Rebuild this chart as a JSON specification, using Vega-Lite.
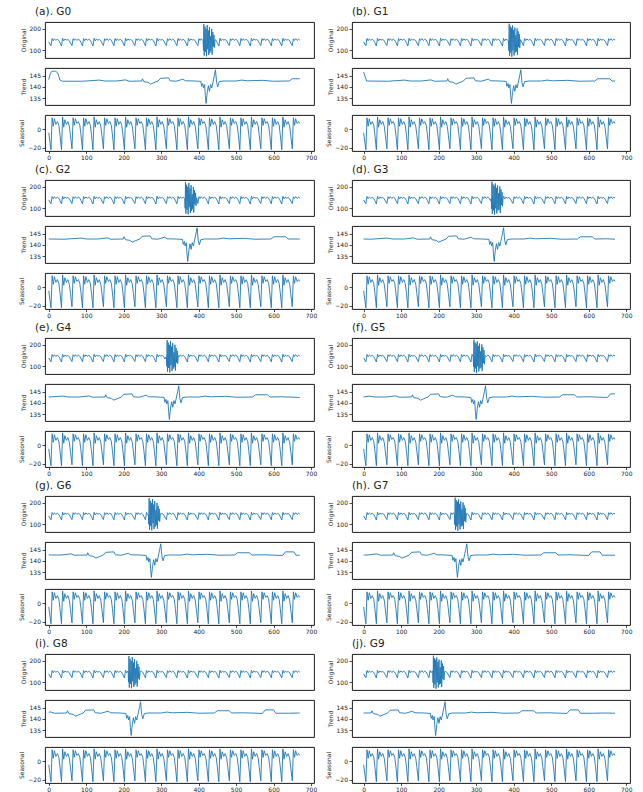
{
"$schema": "https://vega.github.io/schema/vega-lite/v6.json",
"padding": {"left": 18, "top": 6, "right": 2, "bottom": 0},
"config": {
"font": "DejaVu Sans",
"view": {"stroke": "#000", "strokeWidth": 0.9},
"axis": {"grid": false, "domain": false, "labelFontSize": 6, "titleFontSize": 6, "titleFontWeight": "normal", "labelColor": "#222", "titleColor": "#222", "tickColor": "#222", "tickSize": 3, "tickWidth": 0.8, "labelPadding": 1.5, "titlePadding": 3},
"axisX": {"labelPadding": 0.5, "tickSize": 2.5},
"line": {"color": "#1f77b4", "strokeWidth": 0.9},
"title": {"fontSize": 10.5, "fontWeight": "normal", "anchor": "start", "frame": "group", "color": "#222", "offset": 0}
},
"datasets": {
"o": [
{"t":0,"s":-4,"o":139},
{"t":6,"s":-22,"o":121},{"t":9,"s":12,"o":155},{"t":12,"s":3,"o":145},{"t":15,"s":11,"o":153},{"t":19,"s":5,"o":147},{"t":23,"s":8,"o":151},{"t":27,"s":4,"o":146},{"t":30,"s":-6,"o":135},
{"t":34,"s":-22,"o":120},{"t":37,"s":13,"o":156},{"t":40,"s":2,"o":144},{"t":43,"s":10,"o":152},{"t":47,"s":5,"o":148},{"t":51,"s":8,"o":150},{"t":55,"s":3,"o":145},{"t":58,"s":-7,"o":134},
{"t":62,"s":-21,"o":122},{"t":65,"s":12,"o":154},{"t":68,"s":4,"o":146},{"t":71,"s":11,"o":154},{"t":75,"s":6,"o":146},{"t":79,"s":8,"o":152},{"t":83,"s":4,"o":147},{"t":86,"s":-6,"o":136},
{"t":90,"s":-22,"o":121},{"t":93,"s":12,"o":155},{"t":96,"s":3,"o":145},{"t":99,"s":11,"o":153},{"t":103,"s":5,"o":147},{"t":107,"s":8,"o":151},{"t":111,"s":4,"o":146},{"t":114,"s":-6,"o":135},
{"t":118,"s":-22,"o":120},{"t":121,"s":13,"o":156},{"t":124,"s":2,"o":144},{"t":127,"s":10,"o":152},{"t":131,"s":5,"o":148},{"t":135,"s":8,"o":150},{"t":139,"s":3,"o":145},{"t":142,"s":-7,"o":134},
{"t":146,"s":-21,"o":122},{"t":149,"s":12,"o":154},{"t":152,"s":4,"o":146},{"t":155,"s":11,"o":154},{"t":159,"s":6,"o":146},{"t":163,"s":8,"o":152},{"t":167,"s":4,"o":147},{"t":170,"s":-6,"o":136},
{"t":174,"s":-22,"o":121},{"t":177,"s":12,"o":155},{"t":180,"s":3,"o":145},{"t":183,"s":11,"o":153},{"t":187,"s":5,"o":147},{"t":191,"s":8,"o":151},{"t":195,"s":4,"o":146},{"t":198,"s":-6,"o":135},
{"t":202,"s":-22,"o":120},{"t":205,"s":13,"o":156},{"t":208,"s":2,"o":144},{"t":211,"s":10,"o":152},{"t":215,"s":5,"o":148},{"t":219,"s":8,"o":150},{"t":223,"s":3,"o":145},{"t":226,"s":-7,"o":134},
{"t":230,"s":-21,"o":122},{"t":233,"s":12,"o":154},{"t":236,"s":4,"o":146},{"t":239,"s":11,"o":154},{"t":243,"s":6,"o":146},{"t":247,"s":8,"o":152},{"t":251,"s":4,"o":147},{"t":254,"s":-6,"o":136},
{"t":258,"s":-22,"o":121},{"t":261,"s":12,"o":155},{"t":264,"s":3,"o":145},{"t":267,"s":11,"o":153},{"t":271,"s":5,"o":147},{"t":275,"s":8,"o":151},{"t":279,"s":4,"o":146},{"t":282,"s":-6,"o":135},
{"t":286,"s":-22,"o":120},{"t":289,"s":13,"o":156},{"t":292,"s":2,"o":144},{"t":295,"s":10,"o":152},{"t":299,"s":5,"o":148},{"t":303,"s":8,"o":150},{"t":307,"s":3,"o":145},{"t":310,"s":-7,"o":134},
{"t":314,"s":-21,"o":122},{"t":317,"s":12,"o":154},{"t":320,"s":4,"o":146},{"t":323,"s":11,"o":154},{"t":327,"s":6,"o":146},{"t":331,"s":8,"o":152},{"t":335,"s":4,"o":147},{"t":338,"s":-6,"o":136},
{"t":342,"s":-22,"o":121},{"t":345,"s":12,"o":155},{"t":348,"s":3,"o":145},{"t":351,"s":11,"o":153},{"t":355,"s":5,"o":147},{"t":359,"s":8,"o":151},{"t":363,"s":4,"o":146},{"t":366,"s":-6,"o":135},
{"t":370,"s":-22,"o":120},{"t":373,"s":13,"o":156},{"t":376,"s":2,"o":144},{"t":379,"s":10,"o":152},{"t":383,"s":5,"o":148},{"t":387,"s":8,"o":150},{"t":391,"s":3,"o":145},{"t":394,"s":-7,"o":134},
{"t":398,"s":-21,"o":122},{"t":401,"s":12,"o":154},{"t":404,"s":4,"o":146},{"t":407,"s":11,"o":154},{"t":411,"s":6,"o":146},{"t":415,"s":8,"o":152},{"t":419,"s":4,"o":147},{"t":422,"s":-6,"o":136},
{"t":426,"s":-22,"o":121},{"t":429,"s":12,"o":155},{"t":432,"s":3,"o":145},{"t":435,"s":11,"o":153},{"t":439,"s":5,"o":147},{"t":443,"s":8,"o":151},{"t":447,"s":4,"o":146},{"t":450,"s":-6,"o":135},
{"t":454,"s":-22,"o":120},{"t":457,"s":13,"o":156},{"t":460,"s":2,"o":144},{"t":463,"s":10,"o":152},{"t":467,"s":5,"o":148},{"t":471,"s":8,"o":150},{"t":475,"s":3,"o":145},{"t":478,"s":-7,"o":134},
{"t":482,"s":-21,"o":122},{"t":485,"s":12,"o":154},{"t":488,"s":4,"o":146},{"t":491,"s":11,"o":154},{"t":495,"s":6,"o":146},{"t":499,"s":8,"o":152},{"t":503,"s":4,"o":147},{"t":506,"s":-6,"o":136},
{"t":510,"s":-22,"o":121},{"t":513,"s":12,"o":155},{"t":516,"s":3,"o":145},{"t":519,"s":11,"o":153},{"t":523,"s":5,"o":147},{"t":527,"s":8,"o":151},{"t":531,"s":4,"o":146},{"t":534,"s":-6,"o":135},
{"t":538,"s":-22,"o":120},{"t":541,"s":13,"o":156},{"t":544,"s":2,"o":144},{"t":547,"s":10,"o":152},{"t":551,"s":5,"o":148},{"t":555,"s":8,"o":150},{"t":559,"s":3,"o":145},{"t":562,"s":-7,"o":134},
{"t":566,"s":-21,"o":122},{"t":569,"s":12,"o":154},{"t":572,"s":4,"o":146},{"t":575,"s":11,"o":154},{"t":579,"s":6,"o":146},{"t":583,"s":8,"o":152},{"t":587,"s":4,"o":147},{"t":590,"s":-6,"o":136},
{"t":594,"s":-22,"o":121},{"t":597,"s":12,"o":155},{"t":600,"s":3,"o":145},{"t":603,"s":11,"o":153},{"t":607,"s":5,"o":147},{"t":611,"s":8,"o":151},{"t":615,"s":4,"o":146},{"t":618,"s":-6,"o":135},
{"t":622,"s":-22,"o":120},{"t":625,"s":13,"o":156},{"t":628,"s":2,"o":144},{"t":631,"s":10,"o":152},{"t":635,"s":5,"o":148},{"t":639,"s":8,"o":150},{"t":643,"s":3,"o":145},{"t":646,"s":-7,"o":134},
{"t":650,"s":-21,"o":122},{"t":653,"s":12,"o":154},{"t":656,"s":4,"o":146},{"t":659,"s":11,"o":154},{"t":663,"s":6,"o":146},{"t":667,"s":8,"o":152},{"t":670,"s":6,"o":148},
{"g":"G0","t":412,"o":145},{"g":"G0","t":413,"o":100},{"g":"G0","t":414,"o":222},{"g":"G0","t":415,"o":75},{"g":"G0","t":417,"o":210},{"g":"G0","t":418,"o":92},{"g":"G0","t":420,"o":200},{"g":"G0","t":421,"o":72},{"g":"G0","t":423,"o":218},{"g":"G0","t":424,"o":105},{"g":"G0","t":426,"o":192},{"g":"G0","t":427,"o":78},{"g":"G0","t":429,"o":208},{"g":"G0","t":430,"o":88},{"g":"G0","t":432,"o":165},{"g":"G0","t":433,"o":96},{"g":"G0","t":435,"o":200},{"g":"G0","t":436,"o":80},{"g":"G0","t":438,"o":185},{"g":"G0","t":439,"o":118},{"g":"G0","t":441,"o":172},{"g":"G0","t":442,"o":112},{"g":"G0","t":444,"o":150},
{"g":"G1","t":386,"o":145},{"g":"G1","t":387,"o":98},{"g":"G1","t":388,"o":224},{"g":"G1","t":389,"o":74},{"g":"G1","t":391,"o":212},{"g":"G1","t":392,"o":90},{"g":"G1","t":394,"o":205},{"g":"G1","t":395,"o":70},{"g":"G1","t":397,"o":216},{"g":"G1","t":398,"o":100},{"g":"G1","t":400,"o":195},{"g":"G1","t":401,"o":76},{"g":"G1","t":403,"o":206},{"g":"G1","t":404,"o":90},{"g":"G1","t":406,"o":170},{"g":"G1","t":407,"o":94},{"g":"G1","t":409,"o":202},{"g":"G1","t":410,"o":78},{"g":"G1","t":412,"o":188},{"g":"G1","t":413,"o":115},{"g":"G1","t":415,"o":175},{"g":"G1","t":416,"o":110},{"g":"G1","t":418,"o":150},
{"g":"G2","t":363,"o":145},{"g":"G2","t":364,"o":100},{"g":"G2","t":365,"o":222},{"g":"G2","t":366,"o":75},{"g":"G2","t":368,"o":210},{"g":"G2","t":369,"o":92},{"g":"G2","t":371,"o":200},{"g":"G2","t":372,"o":72},{"g":"G2","t":374,"o":218},{"g":"G2","t":375,"o":105},{"g":"G2","t":377,"o":192},{"g":"G2","t":378,"o":78},{"g":"G2","t":380,"o":208},{"g":"G2","t":381,"o":88},{"g":"G2","t":383,"o":165},{"g":"G2","t":384,"o":96},{"g":"G2","t":386,"o":200},{"g":"G2","t":387,"o":80},{"g":"G2","t":389,"o":185},{"g":"G2","t":390,"o":118},{"g":"G2","t":392,"o":172},{"g":"G2","t":393,"o":112},{"g":"G2","t":395,"o":150},
{"g":"G3","t":340,"o":145},{"g":"G3","t":341,"o":98},{"g":"G3","t":342,"o":224},{"g":"G3","t":343,"o":74},{"g":"G3","t":345,"o":212},{"g":"G3","t":346,"o":90},{"g":"G3","t":348,"o":205},{"g":"G3","t":349,"o":70},{"g":"G3","t":351,"o":216},{"g":"G3","t":352,"o":100},{"g":"G3","t":354,"o":195},{"g":"G3","t":355,"o":76},{"g":"G3","t":357,"o":206},{"g":"G3","t":358,"o":90},{"g":"G3","t":360,"o":170},{"g":"G3","t":361,"o":94},{"g":"G3","t":363,"o":202},{"g":"G3","t":364,"o":78},{"g":"G3","t":366,"o":188},{"g":"G3","t":367,"o":115},{"g":"G3","t":369,"o":175},{"g":"G3","t":370,"o":110},{"g":"G3","t":372,"o":150},
{"g":"G4","t":314,"o":145},{"g":"G4","t":315,"o":100},{"g":"G4","t":316,"o":222},{"g":"G4","t":317,"o":75},{"g":"G4","t":319,"o":210},{"g":"G4","t":320,"o":92},{"g":"G4","t":322,"o":200},{"g":"G4","t":323,"o":72},{"g":"G4","t":325,"o":218},{"g":"G4","t":326,"o":105},{"g":"G4","t":328,"o":192},{"g":"G4","t":329,"o":78},{"g":"G4","t":331,"o":208},{"g":"G4","t":332,"o":88},{"g":"G4","t":334,"o":165},{"g":"G4","t":335,"o":96},{"g":"G4","t":337,"o":200},{"g":"G4","t":338,"o":80},{"g":"G4","t":340,"o":185},{"g":"G4","t":341,"o":118},{"g":"G4","t":343,"o":172},{"g":"G4","t":344,"o":112},{"g":"G4","t":346,"o":150},
{"g":"G5","t":292,"o":145},{"g":"G5","t":293,"o":98},{"g":"G5","t":294,"o":224},{"g":"G5","t":295,"o":74},{"g":"G5","t":297,"o":212},{"g":"G5","t":298,"o":90},{"g":"G5","t":300,"o":205},{"g":"G5","t":301,"o":70},{"g":"G5","t":303,"o":216},{"g":"G5","t":304,"o":100},{"g":"G5","t":306,"o":195},{"g":"G5","t":307,"o":76},{"g":"G5","t":309,"o":206},{"g":"G5","t":310,"o":90},{"g":"G5","t":312,"o":170},{"g":"G5","t":313,"o":94},{"g":"G5","t":315,"o":202},{"g":"G5","t":316,"o":78},{"g":"G5","t":318,"o":188},{"g":"G5","t":319,"o":115},{"g":"G5","t":321,"o":175},{"g":"G5","t":322,"o":110},{"g":"G5","t":324,"o":150},
{"g":"G6","t":266,"o":145},{"g":"G6","t":267,"o":100},{"g":"G6","t":268,"o":222},{"g":"G6","t":269,"o":75},{"g":"G6","t":271,"o":210},{"g":"G6","t":272,"o":92},{"g":"G6","t":274,"o":200},{"g":"G6","t":275,"o":72},{"g":"G6","t":277,"o":218},{"g":"G6","t":278,"o":105},{"g":"G6","t":280,"o":192},{"g":"G6","t":281,"o":78},{"g":"G6","t":283,"o":208},{"g":"G6","t":284,"o":88},{"g":"G6","t":286,"o":165},{"g":"G6","t":287,"o":96},{"g":"G6","t":289,"o":200},{"g":"G6","t":290,"o":80},{"g":"G6","t":292,"o":185},{"g":"G6","t":293,"o":118},{"g":"G6","t":295,"o":172},{"g":"G6","t":296,"o":112},{"g":"G6","t":298,"o":150},
{"g":"G7","t":242,"o":145},{"g":"G7","t":243,"o":98},{"g":"G7","t":244,"o":224},{"g":"G7","t":245,"o":74},{"g":"G7","t":247,"o":212},{"g":"G7","t":248,"o":90},{"g":"G7","t":250,"o":205},{"g":"G7","t":251,"o":70},{"g":"G7","t":253,"o":216},{"g":"G7","t":254,"o":100},{"g":"G7","t":256,"o":195},{"g":"G7","t":257,"o":76},{"g":"G7","t":259,"o":206},{"g":"G7","t":260,"o":90},{"g":"G7","t":262,"o":170},{"g":"G7","t":263,"o":94},{"g":"G7","t":265,"o":202},{"g":"G7","t":266,"o":78},{"g":"G7","t":268,"o":188},{"g":"G7","t":269,"o":115},{"g":"G7","t":271,"o":175},{"g":"G7","t":272,"o":110},{"g":"G7","t":274,"o":150},
{"g":"G8","t":212,"o":145},{"g":"G8","t":213,"o":100},{"g":"G8","t":214,"o":222},{"g":"G8","t":215,"o":75},{"g":"G8","t":217,"o":210},{"g":"G8","t":218,"o":92},{"g":"G8","t":220,"o":200},{"g":"G8","t":221,"o":72},{"g":"G8","t":223,"o":218},{"g":"G8","t":224,"o":105},{"g":"G8","t":226,"o":192},{"g":"G8","t":227,"o":78},{"g":"G8","t":229,"o":208},{"g":"G8","t":230,"o":88},{"g":"G8","t":232,"o":165},{"g":"G8","t":233,"o":96},{"g":"G8","t":235,"o":200},{"g":"G8","t":236,"o":80},{"g":"G8","t":238,"o":185},{"g":"G8","t":239,"o":118},{"g":"G8","t":241,"o":172},{"g":"G8","t":242,"o":112},{"g":"G8","t":244,"o":150},
{"g":"G9","t":184,"o":145},{"g":"G9","t":185,"o":98},{"g":"G9","t":186,"o":224},{"g":"G9","t":187,"o":74},{"g":"G9","t":189,"o":212},{"g":"G9","t":190,"o":90},{"g":"G9","t":192,"o":205},{"g":"G9","t":193,"o":70},{"g":"G9","t":195,"o":216},{"g":"G9","t":196,"o":100},{"g":"G9","t":198,"o":195},{"g":"G9","t":199,"o":76},{"g":"G9","t":201,"o":206},{"g":"G9","t":202,"o":90},{"g":"G9","t":204,"o":170},{"g":"G9","t":205,"o":94},{"g":"G9","t":207,"o":202},{"g":"G9","t":208,"o":78},{"g":"G9","t":210,"o":188},{"g":"G9","t":211,"o":115},{"g":"G9","t":213,"o":175},{"g":"G9","t":214,"o":110},{"g":"G9","t":216,"o":150}
],
"tr": [
{"g":"G0","t":0,"r":143.2},{"g":"G0","t":4,"r":145.8},{"g":"G0","t":8,"r":146.9},{"g":"G0","t":18,"r":147.0},{"g":"G0","t":24,"r":146.2},{"g":"G0","t":30,"r":143.0},{"g":"G0","t":36,"r":142.5},{"g":"G0","t":90,"r":142.5},{"g":"G0","t":135,"r":143.0},{"g":"G0","t":150,"r":142.6},{"g":"G0","t":180,"r":142.6},{"g":"G0","t":205,"r":143.1},{"g":"G0","t":215,"r":142.5},{"g":"G0","t":248,"r":142.6},{"g":"G0","t":250,"r":143.6},{"g":"G0","t":254,"r":142.3},{"g":"G0","t":265,"r":142.0},{"g":"G0","t":272,"r":141.2},{"g":"G0","t":280,"r":141.8},{"g":"G0","t":292,"r":142.6},{"g":"G0","t":298,"r":143.8},{"g":"G0","t":320,"r":144.0},{"g":"G0","t":324,"r":142.7},{"g":"G0","t":340,"r":142.5},{"g":"G0","t":350,"r":143.0},{"g":"G0","t":358,"r":143.4},{"g":"G0","t":365,"r":142.7},{"g":"G0","t":390,"r":142.6},{"g":"G0","t":406,"r":142.4},{"g":"G0","t":408,"r":140.2},{"g":"G0","t":411,"r":141.5},{"g":"G0","t":413,"r":139.5},{"g":"G0","t":416,"r":141.0},{"g":"G0","t":418,"r":136.0},{"g":"G0","t":420,"r":132.6},{"g":"G0","t":423,"r":137.5},{"g":"G0","t":426,"r":140.5},{"g":"G0","t":429,"r":138.0},{"g":"G0","t":432,"r":141.0},{"g":"G0","t":435,"r":139.5},{"g":"G0","t":438,"r":141.8},{"g":"G0","t":442,"r":145.0},{"g":"G0","t":445,"r":147.6},{"g":"G0","t":448,"r":142.0},{"g":"G0","t":451,"r":140.0},{"g":"G0","t":455,"r":142.3},{"g":"G0","t":465,"r":142.6},{"g":"G0","t":500,"r":142.6},{"g":"G0","t":515,"r":143.0},{"g":"G0","t":530,"r":142.7},{"g":"G0","t":570,"r":142.9},{"g":"G0","t":600,"r":142.5},{"g":"G0","t":642,"r":142.6},{"g":"G0","t":650,"r":143.6},{"g":"G0","t":670,"r":143.6},
{"g":"G1","t":0,"r":146.6},{"g":"G1","t":4,"r":144.5},{"g":"G1","t":8,"r":142.6},{"g":"G1","t":64,"r":142.5},{"g":"G1","t":109,"r":143.0},{"g":"G1","t":124,"r":142.6},{"g":"G1","t":154,"r":142.6},{"g":"G1","t":179,"r":143.1},{"g":"G1","t":189,"r":142.5},{"g":"G1","t":222,"r":142.6},{"g":"G1","t":224,"r":143.6},{"g":"G1","t":228,"r":142.3},{"g":"G1","t":239,"r":142.0},{"g":"G1","t":246,"r":141.2},{"g":"G1","t":254,"r":141.8},{"g":"G1","t":266,"r":142.6},{"g":"G1","t":272,"r":143.8},{"g":"G1","t":294,"r":144.0},{"g":"G1","t":298,"r":142.7},{"g":"G1","t":314,"r":142.5},{"g":"G1","t":324,"r":143.0},{"g":"G1","t":332,"r":143.4},{"g":"G1","t":339,"r":142.7},{"g":"G1","t":364,"r":142.6},{"g":"G1","t":380,"r":142.4},{"g":"G1","t":382,"r":140.2},{"g":"G1","t":385,"r":141.5},{"g":"G1","t":387,"r":139.5},{"g":"G1","t":390,"r":141.0},{"g":"G1","t":392,"r":136.0},{"g":"G1","t":394,"r":132.6},{"g":"G1","t":397,"r":137.5},{"g":"G1","t":400,"r":140.5},{"g":"G1","t":403,"r":138.0},{"g":"G1","t":406,"r":141.0},{"g":"G1","t":409,"r":139.5},{"g":"G1","t":412,"r":141.8},{"g":"G1","t":416,"r":145.0},{"g":"G1","t":419,"r":147.6},{"g":"G1","t":422,"r":142.0},{"g":"G1","t":425,"r":140.0},{"g":"G1","t":429,"r":142.3},{"g":"G1","t":439,"r":142.6},{"g":"G1","t":474,"r":142.6},{"g":"G1","t":489,"r":143.0},{"g":"G1","t":504,"r":142.7},{"g":"G1","t":544,"r":142.9},{"g":"G1","t":574,"r":142.5},{"g":"G1","t":616,"r":142.6},{"g":"G1","t":624,"r":143.6},{"g":"G1","t":656,"r":143.6},{"g":"G1","t":662,"r":142.6},{"g":"G1","t":670,"r":142.6},
{"g":"G2","t":0,"r":142.6},{"g":"G2","t":41,"r":142.5},{"g":"G2","t":86,"r":143.0},{"g":"G2","t":101,"r":142.6},{"g":"G2","t":131,"r":142.6},{"g":"G2","t":156,"r":143.1},{"g":"G2","t":166,"r":142.5},{"g":"G2","t":199,"r":142.6},{"g":"G2","t":201,"r":143.6},{"g":"G2","t":205,"r":142.3},{"g":"G2","t":216,"r":142.0},{"g":"G2","t":223,"r":141.2},{"g":"G2","t":231,"r":141.8},{"g":"G2","t":243,"r":142.6},{"g":"G2","t":249,"r":143.8},{"g":"G2","t":271,"r":144.0},{"g":"G2","t":275,"r":142.7},{"g":"G2","t":291,"r":142.5},{"g":"G2","t":301,"r":143.0},{"g":"G2","t":309,"r":143.4},{"g":"G2","t":316,"r":142.7},{"g":"G2","t":341,"r":142.6},{"g":"G2","t":357,"r":142.4},{"g":"G2","t":359,"r":140.2},{"g":"G2","t":362,"r":141.5},{"g":"G2","t":364,"r":139.5},{"g":"G2","t":367,"r":141.0},{"g":"G2","t":369,"r":136.0},{"g":"G2","t":371,"r":132.6},{"g":"G2","t":374,"r":137.5},{"g":"G2","t":377,"r":140.5},{"g":"G2","t":380,"r":138.0},{"g":"G2","t":383,"r":141.0},{"g":"G2","t":386,"r":139.5},{"g":"G2","t":389,"r":141.8},{"g":"G2","t":393,"r":145.0},{"g":"G2","t":396,"r":147.6},{"g":"G2","t":399,"r":142.0},{"g":"G2","t":402,"r":140.0},{"g":"G2","t":406,"r":142.3},{"g":"G2","t":416,"r":142.6},{"g":"G2","t":451,"r":142.6},{"g":"G2","t":466,"r":143.0},{"g":"G2","t":481,"r":142.7},{"g":"G2","t":521,"r":142.9},{"g":"G2","t":551,"r":142.5},{"g":"G2","t":593,"r":142.6},{"g":"G2","t":601,"r":143.6},{"g":"G2","t":633,"r":143.6},{"g":"G2","t":639,"r":142.6},{"g":"G2","t":670,"r":142.6},
{"g":"G3","t":0,"r":142.6},{"g":"G3","t":18,"r":142.5},{"g":"G3","t":63,"r":143.0},{"g":"G3","t":78,"r":142.6},{"g":"G3","t":108,"r":142.6},{"g":"G3","t":133,"r":143.1},{"g":"G3","t":143,"r":142.5},{"g":"G3","t":176,"r":142.6},{"g":"G3","t":178,"r":143.6},{"g":"G3","t":182,"r":142.3},{"g":"G3","t":193,"r":142.0},{"g":"G3","t":200,"r":141.2},{"g":"G3","t":208,"r":141.8},{"g":"G3","t":220,"r":142.6},{"g":"G3","t":226,"r":143.8},{"g":"G3","t":248,"r":144.0},{"g":"G3","t":252,"r":142.7},{"g":"G3","t":268,"r":142.5},{"g":"G3","t":278,"r":143.0},{"g":"G3","t":286,"r":143.4},{"g":"G3","t":293,"r":142.7},{"g":"G3","t":318,"r":142.6},{"g":"G3","t":334,"r":142.4},{"g":"G3","t":336,"r":140.2},{"g":"G3","t":339,"r":141.5},{"g":"G3","t":341,"r":139.5},{"g":"G3","t":344,"r":141.0},{"g":"G3","t":346,"r":136.0},{"g":"G3","t":348,"r":132.6},{"g":"G3","t":351,"r":137.5},{"g":"G3","t":354,"r":140.5},{"g":"G3","t":357,"r":138.0},{"g":"G3","t":360,"r":141.0},{"g":"G3","t":363,"r":139.5},{"g":"G3","t":366,"r":141.8},{"g":"G3","t":370,"r":145.0},{"g":"G3","t":373,"r":147.6},{"g":"G3","t":376,"r":142.0},{"g":"G3","t":379,"r":140.0},{"g":"G3","t":383,"r":142.3},{"g":"G3","t":393,"r":142.6},{"g":"G3","t":428,"r":142.6},{"g":"G3","t":443,"r":143.0},{"g":"G3","t":458,"r":142.7},{"g":"G3","t":498,"r":142.9},{"g":"G3","t":528,"r":142.5},{"g":"G3","t":570,"r":142.6},{"g":"G3","t":578,"r":143.6},{"g":"G3","t":610,"r":143.6},{"g":"G3","t":616,"r":142.6},{"g":"G3","t":648,"r":142.7},{"g":"G3","t":670,"r":142.5},
{"g":"G4","t":0,"r":142.6},{"g":"G4","t":37,"r":143.0},{"g":"G4","t":52,"r":142.6},{"g":"G4","t":82,"r":142.6},{"g":"G4","t":107,"r":143.1},{"g":"G4","t":117,"r":142.5},{"g":"G4","t":150,"r":142.6},{"g":"G4","t":152,"r":143.6},{"g":"G4","t":156,"r":142.3},{"g":"G4","t":167,"r":142.0},{"g":"G4","t":174,"r":141.2},{"g":"G4","t":182,"r":141.8},{"g":"G4","t":194,"r":142.6},{"g":"G4","t":200,"r":143.8},{"g":"G4","t":222,"r":144.0},{"g":"G4","t":226,"r":142.7},{"g":"G4","t":242,"r":142.5},{"g":"G4","t":252,"r":143.0},{"g":"G4","t":260,"r":143.4},{"g":"G4","t":267,"r":142.7},{"g":"G4","t":292,"r":142.6},{"g":"G4","t":308,"r":142.4},{"g":"G4","t":310,"r":140.2},{"g":"G4","t":313,"r":141.5},{"g":"G4","t":315,"r":139.5},{"g":"G4","t":318,"r":141.0},{"g":"G4","t":320,"r":136.0},{"g":"G4","t":322,"r":132.6},{"g":"G4","t":325,"r":137.5},{"g":"G4","t":328,"r":140.5},{"g":"G4","t":331,"r":138.0},{"g":"G4","t":334,"r":141.0},{"g":"G4","t":337,"r":139.5},{"g":"G4","t":340,"r":141.8},{"g":"G4","t":344,"r":145.0},{"g":"G4","t":347,"r":147.6},{"g":"G4","t":350,"r":142.0},{"g":"G4","t":353,"r":140.0},{"g":"G4","t":357,"r":142.3},{"g":"G4","t":367,"r":142.6},{"g":"G4","t":402,"r":142.6},{"g":"G4","t":417,"r":143.0},{"g":"G4","t":432,"r":142.7},{"g":"G4","t":472,"r":142.9},{"g":"G4","t":502,"r":142.5},{"g":"G4","t":544,"r":142.6},{"g":"G4","t":552,"r":143.6},{"g":"G4","t":584,"r":143.6},{"g":"G4","t":590,"r":142.6},{"g":"G4","t":622,"r":142.7},{"g":"G4","t":670,"r":142.4},
{"g":"G5","t":0,"r":142.6},{"g":"G5","t":15,"r":143.0},{"g":"G5","t":30,"r":142.6},{"g":"G5","t":60,"r":142.6},{"g":"G5","t":85,"r":143.1},{"g":"G5","t":95,"r":142.5},{"g":"G5","t":128,"r":142.6},{"g":"G5","t":130,"r":143.6},{"g":"G5","t":134,"r":142.3},{"g":"G5","t":145,"r":142.0},{"g":"G5","t":152,"r":141.2},{"g":"G5","t":160,"r":141.8},{"g":"G5","t":172,"r":142.6},{"g":"G5","t":178,"r":143.8},{"g":"G5","t":200,"r":144.0},{"g":"G5","t":204,"r":142.7},{"g":"G5","t":220,"r":142.5},{"g":"G5","t":230,"r":143.0},{"g":"G5","t":238,"r":143.4},{"g":"G5","t":245,"r":142.7},{"g":"G5","t":270,"r":142.6},{"g":"G5","t":286,"r":142.4},{"g":"G5","t":288,"r":140.2},{"g":"G5","t":291,"r":141.5},{"g":"G5","t":293,"r":139.5},{"g":"G5","t":296,"r":141.0},{"g":"G5","t":298,"r":136.0},{"g":"G5","t":300,"r":132.6},{"g":"G5","t":303,"r":137.5},{"g":"G5","t":306,"r":140.5},{"g":"G5","t":309,"r":138.0},{"g":"G5","t":312,"r":141.0},{"g":"G5","t":315,"r":139.5},{"g":"G5","t":318,"r":141.8},{"g":"G5","t":322,"r":145.0},{"g":"G5","t":325,"r":147.6},{"g":"G5","t":328,"r":142.0},{"g":"G5","t":331,"r":140.0},{"g":"G5","t":335,"r":142.3},{"g":"G5","t":345,"r":142.6},{"g":"G5","t":380,"r":142.6},{"g":"G5","t":395,"r":143.0},{"g":"G5","t":410,"r":142.7},{"g":"G5","t":450,"r":142.9},{"g":"G5","t":480,"r":142.5},{"g":"G5","t":522,"r":142.6},{"g":"G5","t":530,"r":143.6},{"g":"G5","t":562,"r":143.6},{"g":"G5","t":568,"r":142.6},{"g":"G5","t":600,"r":142.7},{"g":"G5","t":650,"r":142.4},{"g":"G5","t":658,"r":144.0},{"g":"G5","t":670,"r":144.0},
{"g":"G6","t":0,"r":142.7},{"g":"G6","t":4,"r":142.6},{"g":"G6","t":34,"r":142.6},{"g":"G6","t":59,"r":143.1},{"g":"G6","t":69,"r":142.5},{"g":"G6","t":102,"r":142.6},{"g":"G6","t":104,"r":143.6},{"g":"G6","t":108,"r":142.3},{"g":"G6","t":119,"r":142.0},{"g":"G6","t":126,"r":141.2},{"g":"G6","t":134,"r":141.8},{"g":"G6","t":146,"r":142.6},{"g":"G6","t":152,"r":143.8},{"g":"G6","t":174,"r":144.0},{"g":"G6","t":178,"r":142.7},{"g":"G6","t":194,"r":142.5},{"g":"G6","t":204,"r":143.0},{"g":"G6","t":212,"r":143.4},{"g":"G6","t":219,"r":142.7},{"g":"G6","t":244,"r":142.6},{"g":"G6","t":260,"r":142.4},{"g":"G6","t":262,"r":140.2},{"g":"G6","t":265,"r":141.5},{"g":"G6","t":267,"r":139.5},{"g":"G6","t":270,"r":141.0},{"g":"G6","t":272,"r":136.0},{"g":"G6","t":274,"r":132.6},{"g":"G6","t":277,"r":137.5},{"g":"G6","t":280,"r":140.5},{"g":"G6","t":283,"r":138.0},{"g":"G6","t":286,"r":141.0},{"g":"G6","t":289,"r":139.5},{"g":"G6","t":292,"r":141.8},{"g":"G6","t":296,"r":145.0},{"g":"G6","t":299,"r":147.6},{"g":"G6","t":302,"r":142.0},{"g":"G6","t":305,"r":140.0},{"g":"G6","t":309,"r":142.3},{"g":"G6","t":319,"r":142.6},{"g":"G6","t":354,"r":142.6},{"g":"G6","t":369,"r":143.0},{"g":"G6","t":384,"r":142.7},{"g":"G6","t":424,"r":142.9},{"g":"G6","t":454,"r":142.5},{"g":"G6","t":496,"r":142.6},{"g":"G6","t":504,"r":143.6},{"g":"G6","t":536,"r":143.6},{"g":"G6","t":542,"r":142.6},{"g":"G6","t":574,"r":142.7},{"g":"G6","t":624,"r":142.4},{"g":"G6","t":632,"r":144.0},{"g":"G6","t":654,"r":144.0},{"g":"G6","t":660,"r":142.5},{"g":"G6","t":670,"r":142.5},
{"g":"G7","t":0,"r":142.6},{"g":"G7","t":10,"r":142.6},{"g":"G7","t":35,"r":143.1},{"g":"G7","t":45,"r":142.5},{"g":"G7","t":78,"r":142.6},{"g":"G7","t":80,"r":143.6},{"g":"G7","t":84,"r":142.3},{"g":"G7","t":95,"r":142.0},{"g":"G7","t":102,"r":141.2},{"g":"G7","t":110,"r":141.8},{"g":"G7","t":122,"r":142.6},{"g":"G7","t":128,"r":143.8},{"g":"G7","t":150,"r":144.0},{"g":"G7","t":154,"r":142.7},{"g":"G7","t":170,"r":142.5},{"g":"G7","t":180,"r":143.0},{"g":"G7","t":188,"r":143.4},{"g":"G7","t":195,"r":142.7},{"g":"G7","t":220,"r":142.6},{"g":"G7","t":236,"r":142.4},{"g":"G7","t":238,"r":140.2},{"g":"G7","t":241,"r":141.5},{"g":"G7","t":243,"r":139.5},{"g":"G7","t":246,"r":141.0},{"g":"G7","t":248,"r":136.0},{"g":"G7","t":250,"r":132.6},{"g":"G7","t":253,"r":137.5},{"g":"G7","t":256,"r":140.5},{"g":"G7","t":259,"r":138.0},{"g":"G7","t":262,"r":141.0},{"g":"G7","t":265,"r":139.5},{"g":"G7","t":268,"r":141.8},{"g":"G7","t":272,"r":145.0},{"g":"G7","t":275,"r":147.6},{"g":"G7","t":278,"r":142.0},{"g":"G7","t":281,"r":140.0},{"g":"G7","t":285,"r":142.3},{"g":"G7","t":295,"r":142.6},{"g":"G7","t":330,"r":142.6},{"g":"G7","t":345,"r":143.0},{"g":"G7","t":360,"r":142.7},{"g":"G7","t":400,"r":142.9},{"g":"G7","t":430,"r":142.5},{"g":"G7","t":472,"r":142.6},{"g":"G7","t":480,"r":143.6},{"g":"G7","t":512,"r":143.6},{"g":"G7","t":518,"r":142.6},{"g":"G7","t":550,"r":142.7},{"g":"G7","t":600,"r":142.4},{"g":"G7","t":608,"r":144.0},{"g":"G7","t":630,"r":144.0},{"g":"G7","t":636,"r":142.5},{"g":"G7","t":670,"r":142.5},
{"g":"G8","t":0,"r":142.9},{"g":"G8","t":5,"r":143.1},{"g":"G8","t":15,"r":142.5},{"g":"G8","t":48,"r":142.6},{"g":"G8","t":50,"r":143.6},{"g":"G8","t":54,"r":142.3},{"g":"G8","t":65,"r":142.0},{"g":"G8","t":72,"r":141.2},{"g":"G8","t":80,"r":141.8},{"g":"G8","t":92,"r":142.6},{"g":"G8","t":98,"r":143.8},{"g":"G8","t":120,"r":144.0},{"g":"G8","t":124,"r":142.7},{"g":"G8","t":140,"r":142.5},{"g":"G8","t":150,"r":143.0},{"g":"G8","t":158,"r":143.4},{"g":"G8","t":165,"r":142.7},{"g":"G8","t":190,"r":142.6},{"g":"G8","t":206,"r":142.4},{"g":"G8","t":208,"r":140.2},{"g":"G8","t":211,"r":141.5},{"g":"G8","t":213,"r":139.5},{"g":"G8","t":216,"r":141.0},{"g":"G8","t":218,"r":136.0},{"g":"G8","t":220,"r":132.6},{"g":"G8","t":223,"r":137.5},{"g":"G8","t":226,"r":140.5},{"g":"G8","t":229,"r":138.0},{"g":"G8","t":232,"r":141.0},{"g":"G8","t":235,"r":139.5},{"g":"G8","t":238,"r":141.8},{"g":"G8","t":242,"r":145.0},{"g":"G8","t":245,"r":147.6},{"g":"G8","t":248,"r":142.0},{"g":"G8","t":251,"r":140.0},{"g":"G8","t":255,"r":142.3},{"g":"G8","t":265,"r":142.6},{"g":"G8","t":300,"r":142.6},{"g":"G8","t":315,"r":143.0},{"g":"G8","t":330,"r":142.7},{"g":"G8","t":370,"r":142.9},{"g":"G8","t":400,"r":142.5},{"g":"G8","t":442,"r":142.6},{"g":"G8","t":450,"r":143.6},{"g":"G8","t":482,"r":143.6},{"g":"G8","t":488,"r":142.6},{"g":"G8","t":520,"r":142.7},{"g":"G8","t":570,"r":142.4},{"g":"G8","t":578,"r":144.0},{"g":"G8","t":600,"r":144.0},{"g":"G8","t":606,"r":142.5},{"g":"G8","t":640,"r":142.5},{"g":"G8","t":670,"r":142.6},
{"g":"G9","t":0,"r":142.6},{"g":"G9","t":20,"r":142.6},{"g":"G9","t":22,"r":143.6},{"g":"G9","t":26,"r":142.3},{"g":"G9","t":37,"r":142.0},{"g":"G9","t":44,"r":141.2},{"g":"G9","t":52,"r":141.8},{"g":"G9","t":64,"r":142.6},{"g":"G9","t":70,"r":143.8},{"g":"G9","t":92,"r":144.0},{"g":"G9","t":96,"r":142.7},{"g":"G9","t":112,"r":142.5},{"g":"G9","t":122,"r":143.0},{"g":"G9","t":130,"r":143.4},{"g":"G9","t":137,"r":142.7},{"g":"G9","t":162,"r":142.6},{"g":"G9","t":178,"r":142.4},{"g":"G9","t":180,"r":140.2},{"g":"G9","t":183,"r":141.5},{"g":"G9","t":185,"r":139.5},{"g":"G9","t":188,"r":141.0},{"g":"G9","t":190,"r":136.0},{"g":"G9","t":192,"r":132.6},{"g":"G9","t":195,"r":137.5},{"g":"G9","t":198,"r":140.5},{"g":"G9","t":201,"r":138.0},{"g":"G9","t":204,"r":141.0},{"g":"G9","t":207,"r":139.5},{"g":"G9","t":210,"r":141.8},{"g":"G9","t":214,"r":145.0},{"g":"G9","t":217,"r":147.6},{"g":"G9","t":220,"r":142.0},{"g":"G9","t":223,"r":140.0},{"g":"G9","t":227,"r":142.3},{"g":"G9","t":237,"r":142.6},{"g":"G9","t":272,"r":142.6},{"g":"G9","t":287,"r":143.0},{"g":"G9","t":302,"r":142.7},{"g":"G9","t":342,"r":142.9},{"g":"G9","t":372,"r":142.5},{"g":"G9","t":414,"r":142.6},{"g":"G9","t":422,"r":143.6},{"g":"G9","t":454,"r":143.6},{"g":"G9","t":460,"r":142.6},{"g":"G9","t":492,"r":142.7},{"g":"G9","t":542,"r":142.4},{"g":"G9","t":550,"r":144.0},{"g":"G9","t":572,"r":144.0},{"g":"G9","t":578,"r":142.5},{"g":"G9","t":612,"r":142.5},{"g":"G9","t":642,"r":142.6},{"g":"G9","t":670,"r":142.5}
]
},
"spacing": 3,
"vconcat": [
{"spacing": 7, "hconcat": [
{"title": {"text": "(a). G0", "dx": -10}, "spacing": 8, "vconcat": [
{"width": 269, "height": 36, "data": {"name": "o"}, "transform": [{"filter": "datum.g=='G0'||(!datum.g&&(datum.t<412||datum.t>444))"}], "mark": "line", "encoding": {"x": {"field": "t", "type": "quantitative", "scale": {"domain": [-10, 708], "nice": false}, "axis": null}, "y": {"field": "o", "type": "quantitative", "scale": {"domain": [64, 232], "nice": false, "zero": false}, "axis": {"title": "Original", "values": [100, 200]}}}},
{"width": 269, "height": 37, "data": {"name": "tr"}, "transform": [{"filter": "datum.g=='G0'"}], "mark": "line", "encoding": {"x": {"field": "t", "type": "quantitative", "scale": {"domain": [-10, 708], "nice": false}, "axis": null}, "y": {"field": "r", "type": "quantitative", "scale": {"domain": [131.9, 148.4], "nice": false, "zero": false}, "axis": {"title": "Trend", "values": [135, 140, 145]}}}},
{"width": 269, "height": 36, "data": {"name": "o"}, "transform": [{"filter": "!datum.g"}], "mark": "line", "encoding": {"x": {"field": "t", "type": "quantitative", "scale": {"domain": [-10, 708], "nice": false}, "axis": {"title": null, "values": [0, 100, 200, 300, 400, 500, 600, 700]}}, "y": {"field": "s", "type": "quantitative", "scale": {"domain": [-23.3, 15], "nice": false, "zero": false}, "axis": {"title": "Seasonal", "values": [-20, 0]}}}}
]},
{"title": {"text": "(b). G1"}, "spacing": 8, "vconcat": [
{"width": 278, "height": 36, "data": {"name": "o"}, "transform": [{"filter": "datum.g=='G1'||(!datum.g&&(datum.t<386||datum.t>418))"}], "mark": "line", "encoding": {"x": {"field": "t", "type": "quantitative", "scale": {"domain": [-31, 710], "nice": false}, "axis": null}, "y": {"field": "o", "type": "quantitative", "scale": {"domain": [64, 232], "nice": false, "zero": false}, "axis": {"title": "Original", "values": [100, 200]}}}},
{"width": 278, "height": 37, "data": {"name": "tr"}, "transform": [{"filter": "datum.g=='G1'"}], "mark": "line", "encoding": {"x": {"field": "t", "type": "quantitative", "scale": {"domain": [-31, 710], "nice": false}, "axis": null}, "y": {"field": "r", "type": "quantitative", "scale": {"domain": [131.9, 148.4], "nice": false, "zero": false}, "axis": {"title": "Trend", "values": [135, 140, 145]}}}},
{"width": 278, "height": 36, "data": {"name": "o"}, "transform": [{"filter": "!datum.g"}], "mark": "line", "encoding": {"x": {"field": "t", "type": "quantitative", "scale": {"domain": [-31, 710], "nice": false}, "axis": {"title": null, "values": [0, 100, 200, 300, 400, 500, 600, 700]}}, "y": {"field": "s", "type": "quantitative", "scale": {"domain": [-23.3, 15], "nice": false, "zero": false}, "axis": {"title": "Seasonal", "values": [-20, 0]}}}}
]}
]},
{"spacing": 7, "hconcat": [
{"title": {"text": "(c). G2", "dx": -10}, "spacing": 8, "vconcat": [
{"width": 269, "height": 36, "data": {"name": "o"}, "transform": [{"filter": "datum.g=='G2'||(!datum.g&&(datum.t<363||datum.t>395))"}], "mark": "line", "encoding": {"x": {"field": "t", "type": "quantitative", "scale": {"domain": [-10, 708], "nice": false}, "axis": null}, "y": {"field": "o", "type": "quantitative", "scale": {"domain": [64, 232], "nice": false, "zero": false}, "axis": {"title": "Original", "values": [100, 200]}}}},
{"width": 269, "height": 37, "data": {"name": "tr"}, "transform": [{"filter": "datum.g=='G2'"}], "mark": "line", "encoding": {"x": {"field": "t", "type": "quantitative", "scale": {"domain": [-10, 708], "nice": false}, "axis": null}, "y": {"field": "r", "type": "quantitative", "scale": {"domain": [131.9, 148.4], "nice": false, "zero": false}, "axis": {"title": "Trend", "values": [135, 140, 145]}}}},
{"width": 269, "height": 36, "data": {"name": "o"}, "transform": [{"filter": "!datum.g"}], "mark": "line", "encoding": {"x": {"field": "t", "type": "quantitative", "scale": {"domain": [-10, 708], "nice": false}, "axis": {"title": null, "values": [0, 100, 200, 300, 400, 500, 600, 700]}}, "y": {"field": "s", "type": "quantitative", "scale": {"domain": [-23.3, 15], "nice": false, "zero": false}, "axis": {"title": "Seasonal", "values": [-20, 0]}}}}
]},
{"title": {"text": "(d). G3"}, "spacing": 8, "vconcat": [
{"width": 278, "height": 36, "data": {"name": "o"}, "transform": [{"filter": "datum.g=='G3'||(!datum.g&&(datum.t<340||datum.t>372))"}], "mark": "line", "encoding": {"x": {"field": "t", "type": "quantitative", "scale": {"domain": [-31, 710], "nice": false}, "axis": null}, "y": {"field": "o", "type": "quantitative", "scale": {"domain": [64, 232], "nice": false, "zero": false}, "axis": {"title": "Original", "values": [100, 200]}}}},
{"width": 278, "height": 37, "data": {"name": "tr"}, "transform": [{"filter": "datum.g=='G3'"}], "mark": "line", "encoding": {"x": {"field": "t", "type": "quantitative", "scale": {"domain": [-31, 710], "nice": false}, "axis": null}, "y": {"field": "r", "type": "quantitative", "scale": {"domain": [131.9, 148.4], "nice": false, "zero": false}, "axis": {"title": "Trend", "values": [135, 140, 145]}}}},
{"width": 278, "height": 36, "data": {"name": "o"}, "transform": [{"filter": "!datum.g"}], "mark": "line", "encoding": {"x": {"field": "t", "type": "quantitative", "scale": {"domain": [-31, 710], "nice": false}, "axis": {"title": null, "values": [0, 100, 200, 300, 400, 500, 600, 700]}}, "y": {"field": "s", "type": "quantitative", "scale": {"domain": [-23.3, 15], "nice": false, "zero": false}, "axis": {"title": "Seasonal", "values": [-20, 0]}}}}
]}
]},
{"spacing": 7, "hconcat": [
{"title": {"text": "(e). G4", "dx": -10}, "spacing": 8, "vconcat": [
{"width": 269, "height": 36, "data": {"name": "o"}, "transform": [{"filter": "datum.g=='G4'||(!datum.g&&(datum.t<314||datum.t>346))"}], "mark": "line", "encoding": {"x": {"field": "t", "type": "quantitative", "scale": {"domain": [-10, 708], "nice": false}, "axis": null}, "y": {"field": "o", "type": "quantitative", "scale": {"domain": [64, 232], "nice": false, "zero": false}, "axis": {"title": "Original", "values": [100, 200]}}}},
{"width": 269, "height": 37, "data": {"name": "tr"}, "transform": [{"filter": "datum.g=='G4'"}], "mark": "line", "encoding": {"x": {"field": "t", "type": "quantitative", "scale": {"domain": [-10, 708], "nice": false}, "axis": null}, "y": {"field": "r", "type": "quantitative", "scale": {"domain": [131.9, 148.4], "nice": false, "zero": false}, "axis": {"title": "Trend", "values": [135, 140, 145]}}}},
{"width": 269, "height": 36, "data": {"name": "o"}, "transform": [{"filter": "!datum.g"}], "mark": "line", "encoding": {"x": {"field": "t", "type": "quantitative", "scale": {"domain": [-10, 708], "nice": false}, "axis": {"title": null, "values": [0, 100, 200, 300, 400, 500, 600, 700]}}, "y": {"field": "s", "type": "quantitative", "scale": {"domain": [-23.3, 15], "nice": false, "zero": false}, "axis": {"title": "Seasonal", "values": [-20, 0]}}}}
]},
{"title": {"text": "(f). G5"}, "spacing": 8, "vconcat": [
{"width": 278, "height": 36, "data": {"name": "o"}, "transform": [{"filter": "datum.g=='G5'||(!datum.g&&(datum.t<292||datum.t>324))"}], "mark": "line", "encoding": {"x": {"field": "t", "type": "quantitative", "scale": {"domain": [-31, 710], "nice": false}, "axis": null}, "y": {"field": "o", "type": "quantitative", "scale": {"domain": [64, 232], "nice": false, "zero": false}, "axis": {"title": "Original", "values": [100, 200]}}}},
{"width": 278, "height": 37, "data": {"name": "tr"}, "transform": [{"filter": "datum.g=='G5'"}], "mark": "line", "encoding": {"x": {"field": "t", "type": "quantitative", "scale": {"domain": [-31, 710], "nice": false}, "axis": null}, "y": {"field": "r", "type": "quantitative", "scale": {"domain": [131.9, 148.4], "nice": false, "zero": false}, "axis": {"title": "Trend", "values": [135, 140, 145]}}}},
{"width": 278, "height": 36, "data": {"name": "o"}, "transform": [{"filter": "!datum.g"}], "mark": "line", "encoding": {"x": {"field": "t", "type": "quantitative", "scale": {"domain": [-31, 710], "nice": false}, "axis": {"title": null, "values": [0, 100, 200, 300, 400, 500, 600, 700]}}, "y": {"field": "s", "type": "quantitative", "scale": {"domain": [-23.3, 15], "nice": false, "zero": false}, "axis": {"title": "Seasonal", "values": [-20, 0]}}}}
]}
]},
{"spacing": 7, "hconcat": [
{"title": {"text": "(g). G6", "dx": -10}, "spacing": 8, "vconcat": [
{"width": 269, "height": 36, "data": {"name": "o"}, "transform": [{"filter": "datum.g=='G6'||(!datum.g&&(datum.t<266||datum.t>298))"}], "mark": "line", "encoding": {"x": {"field": "t", "type": "quantitative", "scale": {"domain": [-10, 708], "nice": false}, "axis": null}, "y": {"field": "o", "type": "quantitative", "scale": {"domain": [64, 232], "nice": false, "zero": false}, "axis": {"title": "Original", "values": [100, 200]}}}},
{"width": 269, "height": 37, "data": {"name": "tr"}, "transform": [{"filter": "datum.g=='G6'"}], "mark": "line", "encoding": {"x": {"field": "t", "type": "quantitative", "scale": {"domain": [-10, 708], "nice": false}, "axis": null}, "y": {"field": "r", "type": "quantitative", "scale": {"domain": [131.9, 148.4], "nice": false, "zero": false}, "axis": {"title": "Trend", "values": [135, 140, 145]}}}},
{"width": 269, "height": 36, "data": {"name": "o"}, "transform": [{"filter": "!datum.g"}], "mark": "line", "encoding": {"x": {"field": "t", "type": "quantitative", "scale": {"domain": [-10, 708], "nice": false}, "axis": {"title": null, "values": [0, 100, 200, 300, 400, 500, 600, 700]}}, "y": {"field": "s", "type": "quantitative", "scale": {"domain": [-23.3, 15], "nice": false, "zero": false}, "axis": {"title": "Seasonal", "values": [-20, 0]}}}}
]},
{"title": {"text": "(h). G7"}, "spacing": 8, "vconcat": [
{"width": 278, "height": 36, "data": {"name": "o"}, "transform": [{"filter": "datum.g=='G7'||(!datum.g&&(datum.t<242||datum.t>274))"}], "mark": "line", "encoding": {"x": {"field": "t", "type": "quantitative", "scale": {"domain": [-31, 710], "nice": false}, "axis": null}, "y": {"field": "o", "type": "quantitative", "scale": {"domain": [64, 232], "nice": false, "zero": false}, "axis": {"title": "Original", "values": [100, 200]}}}},
{"width": 278, "height": 37, "data": {"name": "tr"}, "transform": [{"filter": "datum.g=='G7'"}], "mark": "line", "encoding": {"x": {"field": "t", "type": "quantitative", "scale": {"domain": [-31, 710], "nice": false}, "axis": null}, "y": {"field": "r", "type": "quantitative", "scale": {"domain": [131.9, 148.4], "nice": false, "zero": false}, "axis": {"title": "Trend", "values": [135, 140, 145]}}}},
{"width": 278, "height": 36, "data": {"name": "o"}, "transform": [{"filter": "!datum.g"}], "mark": "line", "encoding": {"x": {"field": "t", "type": "quantitative", "scale": {"domain": [-31, 710], "nice": false}, "axis": {"title": null, "values": [0, 100, 200, 300, 400, 500, 600, 700]}}, "y": {"field": "s", "type": "quantitative", "scale": {"domain": [-23.3, 15], "nice": false, "zero": false}, "axis": {"title": "Seasonal", "values": [-20, 0]}}}}
]}
]},
{"spacing": 7, "hconcat": [
{"title": {"text": "(i). G8", "dx": -10}, "spacing": 8, "vconcat": [
{"width": 269, "height": 36, "data": {"name": "o"}, "transform": [{"filter": "datum.g=='G8'||(!datum.g&&(datum.t<212||datum.t>244))"}], "mark": "line", "encoding": {"x": {"field": "t", "type": "quantitative", "scale": {"domain": [-10, 708], "nice": false}, "axis": null}, "y": {"field": "o", "type": "quantitative", "scale": {"domain": [64, 232], "nice": false, "zero": false}, "axis": {"title": "Original", "values": [100, 200]}}}},
{"width": 269, "height": 37, "data": {"name": "tr"}, "transform": [{"filter": "datum.g=='G8'"}], "mark": "line", "encoding": {"x": {"field": "t", "type": "quantitative", "scale": {"domain": [-10, 708], "nice": false}, "axis": null}, "y": {"field": "r", "type": "quantitative", "scale": {"domain": [131.9, 148.4], "nice": false, "zero": false}, "axis": {"title": "Trend", "values": [135, 140, 145]}}}},
{"width": 269, "height": 36, "data": {"name": "o"}, "transform": [{"filter": "!datum.g"}], "mark": "line", "encoding": {"x": {"field": "t", "type": "quantitative", "scale": {"domain": [-10, 708], "nice": false}, "axis": {"title": null, "values": [0, 100, 200, 300, 400, 500, 600, 700]}}, "y": {"field": "s", "type": "quantitative", "scale": {"domain": [-23.3, 15], "nice": false, "zero": false}, "axis": {"title": "Seasonal", "values": [-20, 0]}}}}
]},
{"title": {"text": "(j). G9"}, "spacing": 8, "vconcat": [
{"width": 278, "height": 36, "data": {"name": "o"}, "transform": [{"filter": "datum.g=='G9'||(!datum.g&&(datum.t<184||datum.t>216))"}], "mark": "line", "encoding": {"x": {"field": "t", "type": "quantitative", "scale": {"domain": [-31, 710], "nice": false}, "axis": null}, "y": {"field": "o", "type": "quantitative", "scale": {"domain": [64, 232], "nice": false, "zero": false}, "axis": {"title": "Original", "values": [100, 200]}}}},
{"width": 278, "height": 37, "data": {"name": "tr"}, "transform": [{"filter": "datum.g=='G9'"}], "mark": "line", "encoding": {"x": {"field": "t", "type": "quantitative", "scale": {"domain": [-31, 710], "nice": false}, "axis": null}, "y": {"field": "r", "type": "quantitative", "scale": {"domain": [131.9, 148.4], "nice": false, "zero": false}, "axis": {"title": "Trend", "values": [135, 140, 145]}}}},
{"width": 278, "height": 36, "data": {"name": "o"}, "transform": [{"filter": "!datum.g"}], "mark": "line", "encoding": {"x": {"field": "t", "type": "quantitative", "scale": {"domain": [-31, 710], "nice": false}, "axis": {"title": null, "values": [0, 100, 200, 300, 400, 500, 600, 700]}}, "y": {"field": "s", "type": "quantitative", "scale": {"domain": [-23.3, 15], "nice": false, "zero": false}, "axis": {"title": "Seasonal", "values": [-20, 0]}}}}
]}
]}
]
}
